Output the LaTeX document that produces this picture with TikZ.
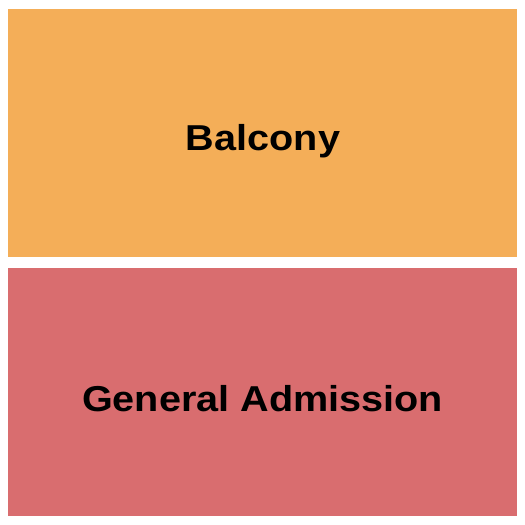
\documentclass[tikz,border=0pt]{standalone}
\usepackage{fontspec}
\setmainfont{Liberation Sans}
\usetikzlibrary{positioning}
\definecolor{balconyorange}{RGB}{244,174,88}
\definecolor{gared}{RGB}{217,109,111}

\begin{document}
\begin{tikzpicture}[x=1pt,y=-1pt]
    \tikzset{section/.style={minimum width=509pt, minimum height=248pt, inner sep=0pt},
        sectionlabel/.style={font=\bfseries\fontsize{36}{42}\selectfont, xscale=1.1}}
    \useasboundingbox (0,0) rectangle (525,525);

    \node [section, fill=balconyorange] (balcony) at (262.5,133) { };
    \node [section, fill=gared] (general) at (262.5,392) { };
    \node [sectionlabel] (balconylabel) at (263,141) {Balcony};
    \node [sectionlabel] (generallabel) at (262.5,399) {General Admission};
\end{tikzpicture}
\end{document}
